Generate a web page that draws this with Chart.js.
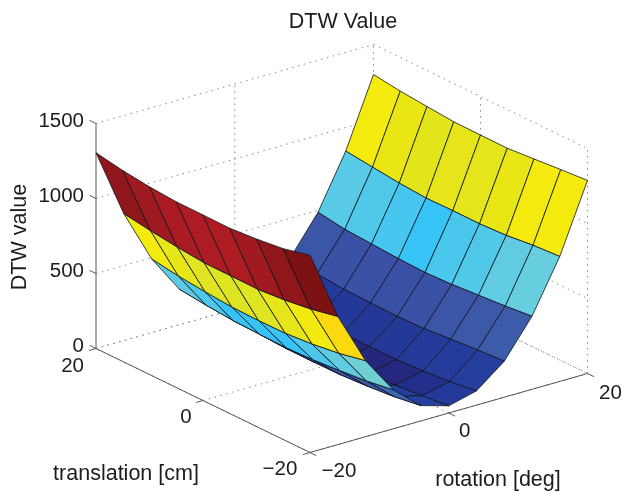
<!DOCTYPE html>
<html>
<head>
<meta charset="utf-8">
<title>DTW Value</title>
<script src="https://cdn.jsdelivr.net/npm/chart.js@4/dist/chart.umd.min.js"></script>
<style>
  html, body { margin: 0; padding: 0; background: #fff; }
  canvas { display: block; }
</style>
</head>
<body>
<canvas id="surface" width="623" height="493"></canvas>
<script>
'use strict';

const rotationGrid = [-20, -16, -12, -8, -4, 0, 4, 8, 12, 16, 20];
const translationGrid = [-20, -15, -10, -5, 0, 5, 10, 15, 20];
const rotationTicks = [-20, 0, 20];
const translationTicks = [-20, 0, 20];
const valueTicks = [0, 500, 1000, 1500];

// DTW value, one row per rotation, one column per translation
const rowM20 = [1315, 1272, 1250, 1235, 1237, 1238, 1251, 1273, 1305];
const rowM16 = [855, 817, 792, 777, 779, 780, 797, 820, 847];
const rowM12 = [507, 470, 445, 430, 428, 432, 447, 465, 493];
const rowM8 = [260, 232, 215, 200, 193, 197, 203, 218, 238];
const rowM4 = [102, 75, 58, 47, 45, 46, 56, 73, 100];
const row0 = [48, 28, 12, 5, 3, 5, 14, 28, 50];
const rowP4 = [95, 70, 54, 44, 43, 45, 55, 72, 98];
const rowP8 = [240, 228, 214, 197, 192, 196, 200, 215, 235];
const rowP12 = [487, 468, 454, 439, 432, 438, 449, 460, 487];
const rowP16 = [833, 821, 800, 791, 792, 789, 802, 822, 842];
const rowP20 = [1287, 1273, 1257, 1242, 1243, 1245, 1260, 1276, 1300];
const dtwRows = [rowM20, rowM16, rowM12, rowM8, rowM4, row0, rowP4, rowP8, rowP12, rowP16, rowP20];

// Colormap of the surface: value -> rgb
const colorStops = [
  [0, [40, 36, 124]], [12, [38, 40, 127]], [28, [35, 47, 140]], [48, [36, 58, 155]],
  [100, [37, 64, 159]], [190, [58, 80, 164]], [240, [60, 92, 169]],
  [432, [54, 196, 246]], [440, [76, 199, 236]], [454, [80, 200, 232]], [465, [95, 203, 226]], [490, [104, 206, 220]],
  [800, [232, 230, 20]], [821, [244, 234, 14]], [840, [246, 234, 14]], [855, [252, 217, 15]],
  [1235, [174, 28, 34]], [1250, [160, 26, 32]], [1272, [143, 22, 27]], [1315, [124, 18, 20]]
];

function valueColor(v) {
  for (let i = 1; i < colorStops.length; i++) {
    const [v0, c0] = colorStops[i - 1];
    const [v1, c1] = colorStops[i];
    if (v <= v1) {
      const f = Math.max(0, (v - v0) / (v1 - v0));
      const mixed = c0.map((c, k) => Math.round(c + (c1[k] - c) * f));
      return `rgb(${mixed.join(',')})`;
    }
  }
  return 'rgb(124,18,20)';
}

// Fixed 3D view of the box, same as the camera of the plot
function project(r, t, z) {
  const a = (r + 20) / 40;
  const b = (t + 20) / 40;
  return {
    x: 310 + a * 277.5 - b * 214,
    y: 452.5 - a * 79 - b * 104 - z * 0.15
  };
}

const datasets = [];

function addLine(points, color, width, dash) {
  datasets.push({
    data: points,
    borderColor: color,
    borderWidth: width,
    borderDash: dash || [],
    pointRadius: 0,
    tension: 0,
    fill: false,
    showLine: true
  });
}

const dots = [1.5, 4.5];
const dotColor = '#8a8a8a';

// Dotted grid on the floor and the two back walls
rotationTicks.forEach((r) => {
  addLine([project(r, -20, 0), project(r, 20, 0)], dotColor, 1, dots);
  if (r > -20) addLine([project(r, 20, 0), project(r, 20, 1500)], dotColor, 1, dots);
});
translationTicks.forEach((t) => {
  addLine([project(-20, t, 0), project(20, t, 0)], dotColor, 1, dots);
  if (t < 20) addLine([project(20, t, 0), project(20, t, 1500)], dotColor, 1, dots);
});
valueTicks.forEach((z) => {
  addLine([project(-20, 20, z), project(20, 20, z)], dotColor, 1, dots);
  addLine([project(20, 20, z), project(20, -20, z)], dotColor, 1, dots);
});

// Axis lines and their ticks
const axisColor = '#555555';
addLine([project(-20, 20, 0), project(-20, 20, 1500)], axisColor, 1);
addLine([project(-20, 20, 0), project(-20, -20, 0)], axisColor, 1);
addLine([project(-20, -20, 0), project(20, -20, 0)], axisColor, 1);
valueTicks.forEach((z) => addLine([project(-20, 20, z), project(-20, 21.2, z)], axisColor, 1));
translationTicks.forEach((t) => addLine([project(-20, t, 0), project(-21, t, 0)], axisColor, 1));
rotationTicks.forEach((r) => addLine([project(r, -20, 0), project(r, -21.2, 0)], axisColor, 1));

// Surface panels, far corner first so the near ones paint over
for (let i = rotationGrid.length - 2; i >= 0; i--) {
  for (let j = translationGrid.length - 2; j >= 0; j--) {
    const r0 = rotationGrid[i], r1 = rotationGrid[i + 1];
    const t0 = translationGrid[j], t1 = translationGrid[j + 1];
    datasets.push({
      data: [
        project(r0, t0, dtwRows[i][j]),
        project(r1, t0, dtwRows[i + 1][j]),
        project(r1, t1, dtwRows[i + 1][j + 1]),
        project(r0, t1, dtwRows[i][j + 1]),
        project(r0, t0, dtwRows[i][j])
      ],
      backgroundColor: valueColor(dtwRows[i][j]),
      borderColor: 'rgba(15,20,30,0.8)',
      borderWidth: 1,
      pointRadius: 0,
      tension: 0,
      fill: 'shape',
      showLine: true
    });
  }
}

// Later datasets go on top
datasets.forEach((d, i) => { d.order = -i; });

function tickText(v) {
  return v < 0 ? '\u2212' + Math.abs(v) : String(v);
}

const textPlugin = {
  id: 'plotText',
  afterDraw(chart) {
    const { ctx, scales } = chart;
    const put = (text, p, dx, dy, align) => {
      ctx.textAlign = align || 'center';
      ctx.fillText(text, scales.x.getPixelForValue(p.x) + dx, scales.y.getPixelForValue(p.y) + dy);
    };
    ctx.save();
    ctx.fillStyle = '#1c1c1c';
    ctx.textBaseline = 'middle';

    ctx.font = '20.5px "Liberation Sans"';
    valueTicks.forEach((z) => put(tickText(z), project(-20, 20, z), -12, -2, 'right'));
    put(tickText(20), project(-20, 20, 0), -12, 18, 'right');
    put(tickText(0), project(-20, 0, 0), -17, 17);
    put(tickText(-20), project(-20, -20, 0), -30, 17);
    put(tickText(-20), project(-20, -20, 0), 29, 19);
    put(tickText(0), project(0, -20, 0), 16, 18);
    put(tickText(20), project(20, -20, 0), 23, 20);

    ctx.font = '21.5px "Liberation Sans"';
    put('DTW Value', { x: 343, y: 22 }, 0, 0);
    put('translation [cm]', { x: 126, y: 474 }, 0, 0);
    put('rotation [deg]', { x: 498, y: 480 }, 0, 0);
    ctx.translate(20, 237);
    ctx.rotate(-Math.PI / 2);
    ctx.textAlign = 'center';
    ctx.fillText('DTW value', 0, 0);
    ctx.restore();
  }
};

new Chart(document.getElementById('surface'), {
  type: 'scatter',
  data: { datasets: datasets },
  options: {
    responsive: false,
    animation: false,
    clip: false,
    layout: { padding: 0 },
    plugins: {
      legend: { display: false },
      title: { display: false },
      tooltip: { enabled: false }
    },
    scales: {
      x: { type: 'linear', min: 0, max: 623, display: false },
      y: { type: 'linear', min: 0, max: 493, reverse: true, display: false }
    }
  },
  plugins: [textPlugin]
});
</script>
</body>
</html>
